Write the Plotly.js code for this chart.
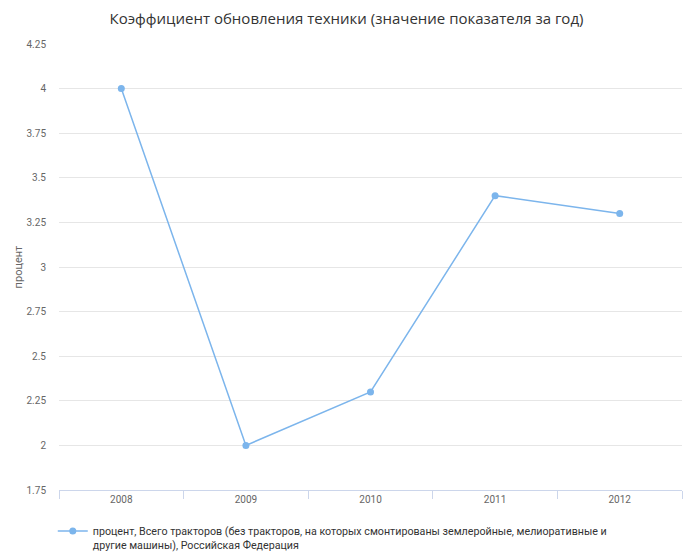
<!DOCTYPE html>
<html><head><meta charset="utf-8">
<script src="https://cdn.plot.ly/plotly-3.0.1.min.js"></script>
<style>html,body{margin:0;padding:0;background:#fff}</style>
</head><body>
<div id="chart" style="width:700px;height:554px"></div>
<script>
const years = ["2008", "2009", "2010", "2011", "2012"];
const values = [4, 2, 2.3, 3.4, 3.3];
const yTicks = [1.75, 2, 2.25, 2.5, 2.75, 3, 3.25, 3.5, 3.75, 4, 4.25];
const yTickText = ["1.75", "2", "2.25", "2.5", "2.75", "3", "3.25", "3.5", "3.75", "4", "4.25"];
const seriesName = "процент, Всего тракторов (без тракторов, на которых смонтированы землеройные, мелиоративные и<br>другие машины), Российская Федерация";
const titleText = "Коэффициент обновления техники (значение показателя за год)";

Plotly.newPlot("chart", [{
  x: years, y: values, type: "scatter", mode: "lines+markers",
  name: seriesName,
  line: {color: "#7cb5ec", width: 1.5},
  marker: {color: "#7cb5ec", size: 7}
}], {
  width: 700, height: 554,
  margin: {l: 59, r: 18, t: 44, b: 64, autoexpand: false},
  paper_bgcolor: "#fff", plot_bgcolor: "#fff",
  title: {text: titleText, x: 0.495, xanchor: "center", y: 0.966, yanchor: "middle",
          font: {family: "Open Sans", size: 15, color: "#333"}},
  showlegend: true,
  legend: {orientation: "h", x: -0.01, xanchor: "left", y: -0.062, yanchor: "top", valign: "top",
           font: {family: "Roboto", size: 10.7, color: "#333"}, itemwidth: 30, tracegroupgap: 0},
  xaxis: {type: "category", range: [-0.5, 4.5], tickson: "boundaries",
          ticks: "outside", ticklen: 8, tickcolor: "#ccd6eb", showline: true, linecolor: "#ccd6eb",
          showgrid: false, zeroline: false, automargin: false,
          tickfont: {family: "Roboto", size: 10, color: "#666"}, fixedrange: true},
  yaxis: {range: [1.75, 4.25], tickvals: yTicks, ticktext: yTickText,
          showgrid: true, gridcolor: "#e6e6e6", zeroline: false, showline: false,
          ticks: "", ticklabelstandoff: 12, automargin: false,
          tickfont: {family: "Roboto", size: 10, color: "#666"},
          title: {text: "процент", standoff: 1, font: {family: "Roboto", size: 11, color: "#666"}}}
}, {displayModeBar: false, staticPlot: true});
</script>
</body></html>
